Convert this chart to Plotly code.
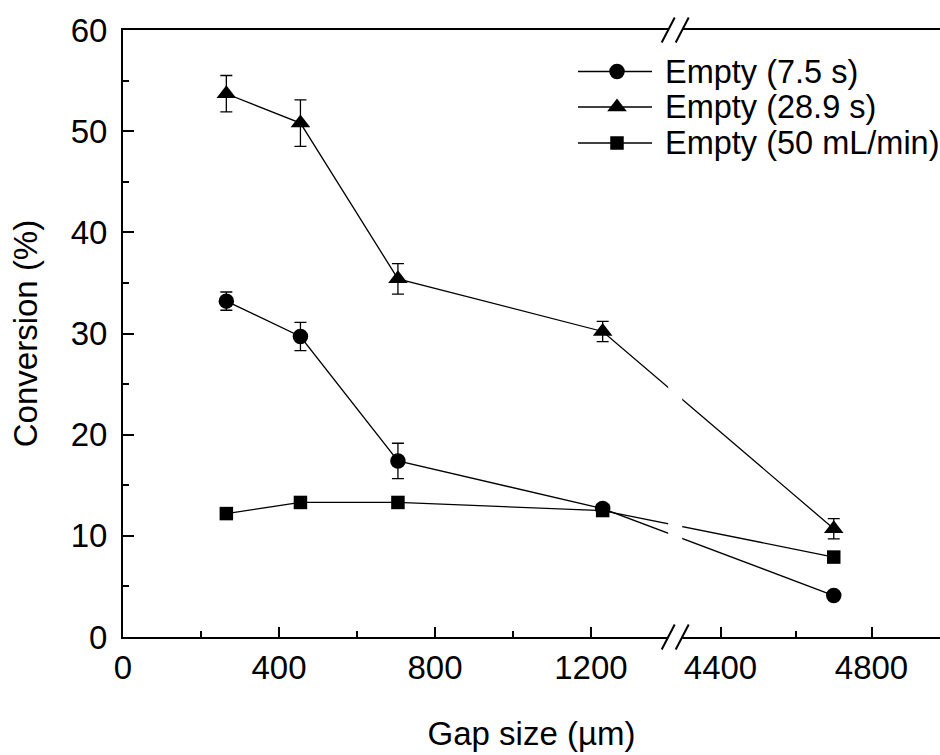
import plotly.graph_objects as go

# ---- data ----
gap_um = [265, 455, 705, 1230, 4700]
conv_7_5s = [33.2, 29.7, 17.4, 12.7, 4.1]
err_7_5s = [0.9, 1.4, 1.75, 0.3, 0.3]
conv_28_9s = [53.7, 50.8, 35.4, 30.2, 10.7]
err_28_9s = [1.8, 2.3, 1.5, 1.0, 1.0]
conv_50ml = [12.2, 13.3, 13.3, 12.5, 7.9]
series_names = ["Empty (7.5 s)", "Empty (28.9 s)", "Empty (50 mL/min)"]
series_symbols = ["circle", "triangle-up", "square"]
series_sizes = [15.5, 17, 13.5]
x_major = [0, 400, 800, 1200, 4400, 4800]
x_minor = [200, 600, 1000, 4600]
y_range = [0, 60]

# ---- broken x axis: left part 0..BREAK_LO, right part BREAK_HI..end ----
BREAK_LO = 1416
BREAK_HI = 4280
RIGHT_SCALE = 0.968
U_MAX = 2095


def to_u(x):
    return x if x <= BREAK_LO else BREAK_LO + (x - BREAK_HI) * RIGHT_SCALE


gap_u = [to_u(v) for v in gap_um]
FONT = "Liberation Sans, Arial, sans-serif"
FS = 33

fig = go.Figure()
common_line = dict(color="black", width=1.3)
ys = [conv_7_5s, conv_28_9s, conv_50ml]
errs = [err_7_5s, err_28_9s, None]
for name, yv, ev, sym, sz in zip(series_names, ys, errs, series_symbols, series_sizes):
    tr = dict(x=gap_u, y=yv, name=name, mode="lines+markers", showlegend=False,
              line=common_line, marker=dict(symbol=sym, size=sz, color="black"))
    if ev is not None:
        tr["error_y"] = dict(type="data", array=ev, visible=True, color="black",
                             thickness=1.3, width=6)
    fig.add_trace(go.Scatter(**tr))

# ---- custom legend on a pixel-space overlay axis (x: 123..940, y: 637..30) ----
LEG_LINE_X = [578, 652]
LEG_MARK_X = 617
LEG_TEXT_X = 663
LEG_ROWS_Y = [71.5, 107, 143]
for name, sym, sz, ry in zip(series_names, series_symbols, series_sizes, LEG_ROWS_Y):
    fig.add_trace(go.Scatter(x=LEG_LINE_X, y=[ry, ry], mode="lines", xaxis="x2", yaxis="y2",
                             line=common_line, showlegend=False, hoverinfo="skip"))
    fig.add_trace(go.Scatter(x=[LEG_MARK_X], y=[ry], mode="markers", xaxis="x2", yaxis="y2",
                             marker=dict(symbol=sym, size=sz, color="black"),
                             showlegend=False, hoverinfo="skip"))
    fig.add_annotation(x=LEG_TEXT_X, y=ry, xref="x2", yref="y2", text=name,
                       showarrow=False, xanchor="left", yanchor="middle",
                       font=dict(family=FONT, size=32.5, color="black"))

# break: white gap over lines and axis lines, then the // marks
fig.add_shape(type="rect", xref="x", yref="paper", xsizemode="pixel", xanchor=BREAK_LO,
              x0=-7, x1=7, y0=-0.01, y1=1.01, fillcolor="white", line=dict(width=0),
              layer="above")
for yy in (0, 1):
    for dx in (-7, 7):
        fig.add_shape(type="line", xref="x", yref="paper", xsizemode="pixel",
                      ysizemode="pixel", xanchor=BREAK_LO, yanchor=yy,
                      x0=dx - 6.5, x1=dx + 6.5, y0=-12.5, y1=12.5,
                      line=dict(color="black", width=2), layer="above")

fig.update_layout(
    width=940, height=755,
    margin=dict(l=123, r=0, t=30, b=118),
    paper_bgcolor="white", plot_bgcolor="white",
    font=dict(family=FONT, size=FS, color="black"),
    showlegend=False,
    xaxis=dict(
        range=[0, U_MAX], showgrid=False, zeroline=False,
        showline=True, linecolor="black", linewidth=2, mirror=True,
        ticks="inside", ticklen=10, tickwidth=2, tickcolor="black",
        tickmode="array", tickvals=[to_u(v) for v in x_major],
        ticktext=[str(v) for v in x_major],
        minor=dict(tickmode="array", tickvals=[to_u(v) for v in x_minor],
                   ticks="inside", ticklen=6, tickwidth=2, tickcolor="black", showgrid=False),
        title=dict(text="Gap size (µm)", font=dict(family=FONT, size=FS), standoff=37),
        tickfont=dict(family=FONT, size=FS),
    ),
    yaxis=dict(
        range=y_range, showgrid=False, zeroline=False,
        showline=True, linecolor="black", linewidth=2, mirror=False,
        ticks="inside", ticklen=11, tickwidth=2, tickcolor="black",
        dtick=10, tick0=0,
        minor=dict(dtick=5, ticks="inside", ticklen=6, tickwidth=2, tickcolor="black", showgrid=False),
        title=dict(text="Conversion (%)", font=dict(family=FONT, size=FS), standoff=23),
        tickfont=dict(family=FONT, size=FS),
        ticklabelstandoff=7,
    ),
    xaxis2=dict(range=[123, 940], overlaying="x", visible=False, fixedrange=True),
    yaxis2=dict(range=[637, 30], overlaying="y", visible=False, fixedrange=True),
)

fig.write_html("out.html")
